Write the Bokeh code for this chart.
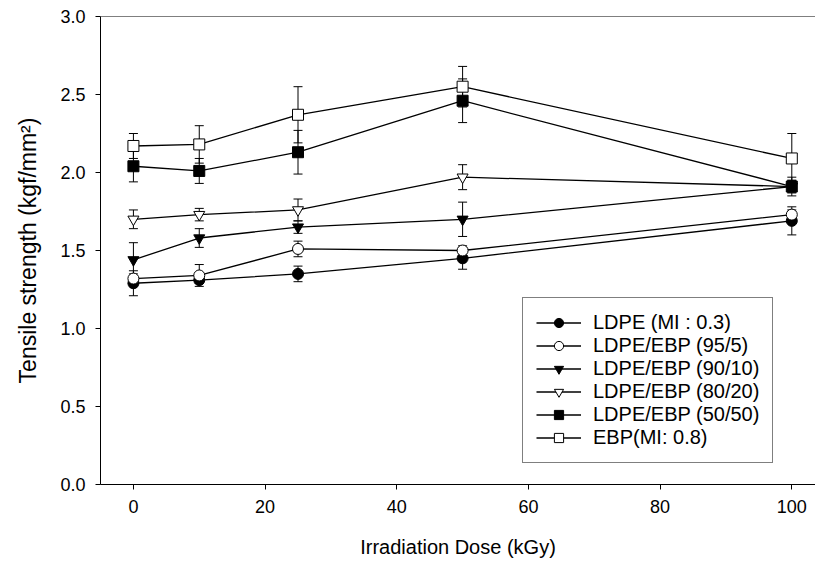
from bokeh.models import ColumnDataSource, Range1d, Span, Whisker, TeeHead, FixedTicker, PrintfTickFormatter
from bokeh.plotting import figure
from bokeh.embed import file_html
from bokeh.resources import INLINE

# tensile strength vs irradiation dose
dose = [0, 10, 25, 50, 100]

names = ['LDPE (MI : 0.3)', 'LDPE/EBP (95/5)', 'LDPE/EBP (90/10)',
         'LDPE/EBP (80/20)', 'LDPE/EBP (50/50)', 'EBP(MI: 0.8)']

ldpe = [1.29, 1.31, 1.35, 1.45, 1.69]
ldpe_err = [0.08, 0.02, 0.05, 0.07, 0.09]
ebp95 = [1.32, 1.34, 1.51, 1.50, 1.73]
ebp95_err = [0.03, 0.07, 0.05, 0.03, 0.03]
ebp90 = [1.44, 1.58, 1.65, 1.70, 1.91]
ebp90_err = [0.11, 0.06, 0.04, 0.11, 0.04]
ebp80 = [1.70, 1.73, 1.76, 1.97, 1.91]
ebp80_err = [0.06, 0.04, 0.07, 0.08, 0.04]
ebp50 = [2.04, 2.01, 2.13, 2.46, 1.91]
ebp50_err = [0.10, 0.08, 0.14, 0.14, 0.06]
ebp = [2.17, 2.18, 2.37, 2.55, 2.09]
ebp_err = [0.08, 0.12, 0.18, 0.13, 0.16]

series = [ldpe, ebp95, ebp90, ebp80, ebp50, ebp]
errors = [ldpe_err, ebp95_err, ebp90_err, ebp80_err, ebp50_err, ebp_err]
markers = ['circle', 'circle', 'inverted_triangle', 'inverted_triangle', 'square', 'square']
fills = ['black', 'white', 'black', 'white', 'black', 'white']

FONT = 'Liberation Sans'

p = figure(frame_width=715, frame_height=468, output_backend="svg", toolbar_location=None,
           min_border_left=100, min_border_top=16, min_border_right=0, min_border_bottom=83)
p.x_range = Range1d(-5, 103.6)
p.y_range = Range1d(0, 3.0)
p.grid.visible = False
p.outline_line_color = None
p.background_fill_color = 'white'
p.border_fill_color = 'white'

p.xaxis.ticker = FixedTicker(ticks=[0, 20, 40, 60, 80, 100])
p.yaxis.ticker = FixedTicker(ticks=[0, 0.5, 1.0, 1.5, 2.0, 2.5, 3.0])
p.yaxis.formatter = PrintfTickFormatter(format='%.1f')
p.xaxis.axis_label = 'Irradiation Dose (kGy)'
p.yaxis.axis_label = 'Tensile strength (kgf/mm²)'

for ax in (p.xaxis, p.yaxis):
    ax.axis_line_color = 'black'
    ax.major_tick_line_color = 'black'
    ax.major_tick_in = 0
    ax.major_tick_out = 5
    ax.minor_tick_line_color = None
    ax.major_label_text_font = FONT
    ax.major_label_text_font_size = '18px'
    ax.major_label_text_color = 'black'
    ax.major_label_standoff = 10
    ax.axis_label_text_font = FONT
    ax.axis_label_text_font_style = 'normal'
    ax.axis_label_text_color = 'black'
p.xaxis.axis_label_text_font_size = '20px'
p.yaxis.axis_label_text_font_size = '23px'
p.xaxis.axis_label_standoff = 20
p.yaxis.axis_label_standoff = 16

p.add_layout(Span(location=3.0, dimension='width', line_color='black', line_width=1))

for name, vals, err, mk, fc in zip(names, series, errors, markers, fills):
    src = ColumnDataSource(dict(x=dose, y=vals,
                                upper=[v + e for v, e in zip(vals, err)],
                                lower=[v - e for v, e in zip(vals, err)]))
    p.add_layout(Whisker(base='x', upper='upper', lower='lower', source=src,
                         line_color='black', line_width=1,
                         upper_head=TeeHead(size=9, line_color='black', line_width=1),
                         lower_head=TeeHead(size=9, line_color='black', line_width=1)))
    p.line('x', 'y', source=src, color='black', line_width=1.3, legend_label=name)
    p.scatter('x', 'y', source=src, marker=mk, size=11, fill_color=fc,
              line_color='black', line_width=1, legend_label=name)

p.legend.location = (422, 21)
p.legend.label_text_font = FONT
p.legend.label_text_font_size = '20px'
p.legend.label_text_color = 'black'
p.legend.glyph_width = 45
p.legend.glyph_height = 23
p.legend.label_height = 23
p.legend.spacing = 0
p.legend.padding = 13
p.legend.margin = 0
p.legend.label_standoff = 12
p.legend.border_line_color = 'black'
p.legend.border_line_width = 1
p.legend.background_fill_alpha = 1

open("out.html", "w").write(file_html(p, INLINE))
